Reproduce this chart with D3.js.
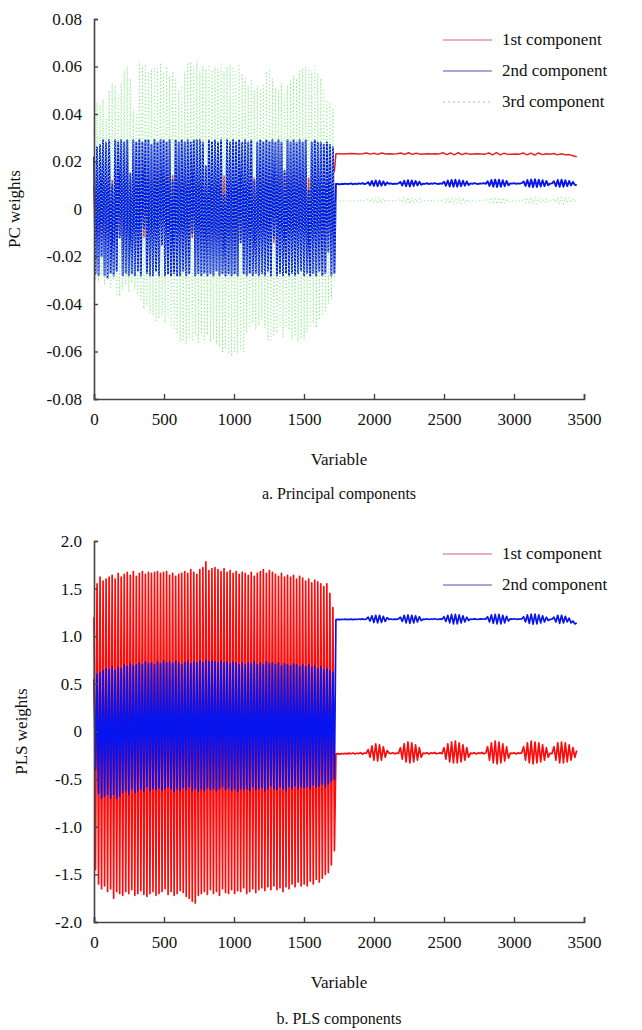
<!DOCTYPE html>
<html>
<head>
<meta charset="utf-8">
<script src="https://cdn.jsdelivr.net/npm/d3@7"></script>
<style>
  html, body { margin: 0; padding: 0; background: #fff; }
  svg text { font-family: "Liberation Serif", "Times New Roman", serif; fill: #111; }
</style>
</head>
<body>
<svg id="chart" width="642" height="1030"></svg>
<script>
// ---------------- DATA ----------------
// x axis ticks (shared)
const xTicks = [0, 500, 1000, 1500, 2000, 2500, 3000, 3500];
// panel a: y ticks
const pcTicks = [0.08, 0.06, 0.04, 0.02, 0, -0.02, -0.04, -0.06, -0.08];
// panel b: y ticks
const plsTicks = [2.0, 1.5, 1.0, 0.5, 0, -0.5, -1.0, -1.5, -2.0];

const pcLegend = ["1st component", "2nd component", "3rd component"];
const plsLegend = ["1st component", "2nd component"];

// variable index layout: dense block (variables 0..~1720) and flat block (~1728..~3448)
const denseStep = 10.8;
const tailStart = 1728;
const tailEnd = 3448;

// ---- Panel a: PC weights ----
const pc1Dense = [
 0.010,-0.012,0.013,-0.010,0.014,-0.013,0.012,-0.011,0.015,-0.012,
 0.014,-0.013,0.012,-0.014,0.015,-0.012,0.013,-0.011,0.014,-0.013,
 0.015,-0.012,0.013,-0.014,0.012,-0.013,0.014,-0.012,0.015,-0.011,
 0.013,-0.014,0.015,-0.012,0.014,-0.013,0.012,-0.014,0.013,-0.012,
 0.014,-0.011,0.015,-0.013,0.013,-0.014,0.015,-0.012,0.014,-0.013,
 0.012,-0.014,0.014,-0.012,0.015,-0.013,0.013,-0.011,0.014,-0.014,
 0.015,-0.012,0.013,-0.014,0.014,-0.012,0.015,-0.013,0.012,-0.014,
 0.014,-0.013,0.015,-0.011,0.013,-0.014,0.014,-0.012,0.015,-0.013,
 0.013,-0.014,0.012,-0.013,0.015,-0.012,0.014,-0.014,0.013,-0.011,
 0.015,-0.013,0.014,-0.012,0.013,-0.014,0.015,-0.013,0.014,-0.012,
 0.012,-0.014,0.015,-0.013,0.014,-0.011,0.013,-0.014,0.015,-0.012,
 0.014,-0.013,0.013,-0.014,0.015,-0.012,0.014,-0.013,0.012,-0.014,
 0.015,-0.012,0.014,-0.013,0.013,-0.014,0.015,-0.011,0.014,-0.013,
 0.013,-0.014,0.015,-0.012,0.014,-0.013,0.012,-0.014,0.015,-0.012,
 0.014,-0.013,0.013,-0.012,0.015,-0.014,0.014,-0.011,0.013,-0.013,
 0.015,-0.012,0.014,-0.013,0.012,-0.011,0.014,-0.012,0.015,0.016
];
const pc1Tail = [
 0.0233,0.0233,0.0232,0.0233,0.0234,0.0233,0.0232,0.0233,
 0.0236,0.0231,0.0235,0.0230,0.0236,0.0232,
 0.0233,0.0232,0.0233,
 0.0236,0.0230,0.0237,0.0230,0.0235,0.0231,
 0.0232,0.0233,0.0232,0.0233,0.0232,
 0.0237,0.0229,0.0236,0.0228,0.0237,0.0229,0.0235,0.0231,
 0.0232,0.0233,0.0232,0.0231,
 0.0236,0.0228,0.0237,0.0228,0.0235,0.0230,
 0.0231,0.0232,0.0231,
 0.0236,0.0228,0.0235,0.0227,0.0236,0.0229,0.0233,
 0.0231,
 0.0234,0.0228,0.0233,0.0228,0.0229,0.0224,0.0220
];
const pc2Dense = [
 0.022,-0.027,0.026,-0.028,0.027,-0.020,0.029,-0.028,0.028,-0.029,
 0.029,-0.027,0.010,-0.028,0.029,-0.026,0.028,-0.012,0.029,-0.028,
 0.028,-0.027,0.029,-0.028,0.015,-0.027,0.029,-0.028,0.028,-0.026,
 0.029,-0.028,0.028,-0.008,0.029,-0.027,0.029,-0.028,0.027,-0.028,
 0.029,-0.026,0.028,-0.028,0.029,-0.015,0.029,-0.028,0.028,-0.027,
 0.029,-0.028,0.012,-0.027,0.029,-0.028,0.028,-0.028,0.029,-0.026,
 0.028,-0.028,0.029,-0.027,0.028,-0.010,0.029,-0.028,0.029,-0.027,
 0.029,-0.028,0.028,-0.027,0.018,-0.028,0.029,-0.027,0.028,-0.028,
 0.029,-0.026,0.028,-0.028,0.029,-0.027,0.006,-0.028,0.029,-0.027,
 0.028,-0.028,0.029,-0.027,0.028,-0.028,0.029,-0.014,0.028,-0.027,
 0.029,-0.028,0.028,-0.027,0.029,-0.028,0.012,-0.027,0.028,-0.028,
 0.029,-0.027,0.028,-0.028,0.029,-0.026,0.028,-0.028,0.029,-0.012,
 0.028,-0.028,0.029,-0.027,0.028,-0.028,0.016,-0.027,0.029,-0.028,
 0.028,-0.027,0.029,-0.028,0.028,-0.027,0.029,-0.026,0.028,-0.028,
 0.029,-0.027,0.008,-0.028,0.028,-0.027,0.029,-0.028,0.028,-0.026,
 0.028,-0.028,0.027,-0.027,0.028,-0.018,0.027,-0.028,0.026,-0.027
];
const pc2Tail = [
 0.0105,0.0106,0.0104,0.0106,0.0105,0.0107,0.0105,0.0106,0.0108,0.0104,0.0107,0.0105,0.0108,0.0106,0.0109,0.0105,0.0107,
 0.0113,0.0100,0.0118,0.0097,0.0120,0.0096,0.0119,0.0098,0.0116,0.0100,0.0112,
 0.0106,0.0108,0.0105,0.0107,0.0106,0.0108,
 0.0114,0.0099,0.0119,0.0096,0.0121,0.0095,0.0120,0.0097,0.0118,0.0099,0.0115,0.0102,
 0.0107,0.0106,0.0109,0.0105,0.0108,0.0106,0.0109,0.0107,0.0105,0.0108,0.0106,
 0.0115,0.0098,0.0120,0.0095,0.0122,0.0094,0.0123,0.0094,0.0121,0.0096,0.0119,0.0098,0.0116,0.0101,
 0.0108,0.0106,0.0109,0.0107,0.0105,0.0108,0.0107,0.0109,0.0106,
 0.0117,0.0097,0.0122,0.0094,0.0124,0.0093,0.0123,0.0094,0.0121,0.0096,0.0118,0.0100,
 0.0108,0.0107,0.0109,0.0106,0.0108,0.0107,0.0109,
 0.0116,0.0097,0.0122,0.0094,0.0124,0.0092,0.0125,0.0093,0.0123,0.0095,0.0121,0.0096,0.0118,0.0100,
 0.0107,0.0108,
 0.0117,0.0096,0.0122,0.0094,0.0123,0.0094,0.0121,0.0096,0.0118,0.0099,0.0114,0.0102,0.0100
];
const pc3Dense = [
 0.040,-0.030,0.045,-0.031,0.044,-0.028,0.046,-0.032,0.038,-0.030,
 0.050,-0.033,0.053,-0.030,0.052,-0.036,0.048,-0.037,0.053,-0.034,
 0.058,-0.032,0.060,-0.035,0.055,-0.031,0.042,-0.034,0.040,-0.036,
 0.062,-0.038,0.060,-0.042,0.061,-0.040,0.058,-0.044,0.059,-0.045,
 0.060,-0.047,0.059,-0.046,0.061,-0.045,0.057,-0.048,0.060,-0.046,
 0.056,-0.049,0.058,-0.051,0.055,-0.052,0.050,-0.056,0.052,-0.055,
 0.058,-0.057,0.061,-0.054,0.062,-0.055,0.060,-0.053,0.062,-0.056,
 0.058,-0.052,0.060,-0.055,0.059,-0.053,0.060,-0.056,0.058,-0.055,
 0.060,-0.057,0.059,-0.058,0.061,-0.060,0.058,-0.059,0.060,-0.061,
 0.061,-0.062,0.060,-0.060,0.058,-0.061,0.061,-0.059,0.057,-0.060,
 0.055,-0.052,0.052,-0.050,0.054,-0.048,0.050,-0.051,0.052,-0.049,
 0.050,-0.047,0.052,-0.050,0.058,-0.055,0.059,-0.056,0.055,-0.053,
 0.051,-0.052,0.050,-0.049,0.053,-0.054,0.048,-0.050,0.052,-0.051,
 0.054,-0.055,0.056,-0.053,0.055,-0.056,0.058,-0.054,0.059,-0.055,
 0.060,-0.052,0.059,-0.050,0.058,-0.048,0.060,-0.050,0.057,-0.046,
 0.055,-0.045,0.050,-0.043,0.046,-0.040,0.045,-0.038,0.042,-0.030
];
const pc3Tail = [
 0.0034,0.0035,0.0033,0.0036,0.0034,0.0035,0.0037,0.0033,0.0035,0.0034,0.0036,0.0033,0.0035,0.0037,0.0034,0.0035,0.0036,
 0.0042,0.0028,0.0046,0.0025,0.0047,0.0023,0.0046,0.0025,0.0044,0.0028,0.0040,
 0.0035,0.0034,0.0036,0.0033,0.0035,0.0036,
 0.0043,0.0027,0.0047,0.0024,0.0048,0.0022,0.0047,0.0024,0.0045,0.0026,0.0042,0.0030,
 0.0035,0.0034,0.0036,0.0033,0.0035,0.0037,0.0034,0.0035,0.0033,0.0036,0.0034,
 0.0043,0.0027,0.0047,0.0023,0.0049,0.0021,0.0050,0.0021,0.0048,0.0023,0.0046,0.0025,0.0043,0.0029,
 0.0035,0.0034,0.0036,0.0033,0.0035,0.0037,0.0034,0.0036,0.0035,
 0.0044,0.0026,0.0049,0.0022,0.0050,0.0020,0.0049,0.0021,0.0047,0.0024,0.0044,0.0028,
 0.0035,0.0034,0.0036,0.0033,0.0035,0.0036,0.0034,
 0.0044,0.0026,0.0049,0.0021,0.0050,0.0020,0.0050,0.0021,0.0048,0.0023,0.0046,0.0025,0.0043,0.0029,
 0.0035,0.0034,
 0.0044,0.0026,0.0048,0.0022,0.0049,0.0022,0.0048,0.0024,0.0046,0.0027,0.0044,0.0030,0.0041
];

// ---- Panel b: PLS weights ----
const pls1Dense = [
 1.20,-1.45,1.55,-1.60,1.62,-1.65,1.58,-1.62,1.60,-1.68,
 1.62,-1.65,1.64,-1.75,1.60,-1.68,1.66,-1.70,1.62,-1.72,
 1.65,-1.68,1.67,-1.70,1.64,-1.66,1.68,-1.72,1.63,-1.70,
 1.66,-1.67,1.68,-1.71,1.65,-1.73,1.67,-1.70,1.66,-1.68,
 1.67,-1.72,1.68,-1.70,1.66,-1.68,1.67,-1.65,1.68,-1.71,
 1.64,-1.68,1.66,-1.72,1.63,-1.70,1.65,-1.67,1.66,-1.69,
 1.68,-1.73,1.66,-1.75,1.70,-1.78,1.67,-1.80,1.65,-1.72,
 1.70,-1.70,1.72,-1.68,1.78,-1.71,1.69,-1.66,1.71,-1.70,
 1.72,-1.68,1.70,-1.72,1.68,-1.65,1.71,-1.69,1.67,-1.70,
 1.69,-1.66,1.66,-1.70,1.68,-1.67,1.65,-1.68,1.67,-1.64,
 1.66,-1.70,1.64,-1.68,1.67,-1.65,1.63,-1.69,1.66,-1.66,
 1.68,-1.64,1.70,-1.67,1.66,-1.63,1.69,-1.66,1.67,-1.62,
 1.65,-1.66,1.63,-1.64,1.66,-1.68,1.62,-1.63,1.64,-1.65,
 1.62,-1.60,1.64,-1.63,1.60,-1.58,1.63,-1.62,1.61,-1.60,
 1.58,-1.62,1.60,-1.57,1.56,-1.60,1.59,-1.55,1.57,-1.58,
 1.55,-1.54,1.52,-1.50,1.55,-1.48,1.45,-1.40,1.30,-1.25
];
const pls1Tail = [
 -0.235,-0.232,-0.237,-0.231,-0.234,-0.229,-0.235,-0.227,-0.233,-0.225,-0.236,-0.228,-0.232,-0.222,-0.238,-0.226,-0.230,
 -0.19,-0.27,-0.15,-0.30,-0.13,-0.31,-0.14,-0.30,-0.16,-0.27,-0.20,
 -0.225,-0.232,-0.222,-0.235,-0.226,-0.23,
 -0.17,-0.29,-0.13,-0.32,-0.11,-0.33,-0.12,-0.32,-0.14,-0.30,-0.17,-0.27,
 -0.226,-0.232,-0.222,-0.236,-0.225,-0.23,-0.22,-0.234,-0.228,-0.224,-0.232,
 -0.17,-0.29,-0.13,-0.32,-0.11,-0.33,-0.10,-0.33,-0.12,-0.32,-0.14,-0.30,-0.17,-0.27,
 -0.226,-0.232,-0.222,-0.236,-0.225,-0.23,-0.22,-0.234,-0.228,
 -0.16,-0.30,-0.12,-0.33,-0.10,-0.34,-0.11,-0.33,-0.13,-0.31,-0.16,-0.28,
 -0.226,-0.232,-0.222,-0.236,-0.225,-0.23,-0.224,
 -0.16,-0.30,-0.12,-0.33,-0.10,-0.34,-0.11,-0.33,-0.12,-0.32,-0.14,-0.30,-0.17,-0.27,
 -0.228,-0.232,
 -0.16,-0.30,-0.12,-0.33,-0.11,-0.33,-0.12,-0.32,-0.14,-0.30,-0.17,-0.27,-0.20
];
const pls2Dense = [
 0.55,-0.40,0.60,-0.65,0.62,-0.70,0.64,-0.68,0.66,-0.66,
 0.65,-0.70,0.68,-0.66,0.64,-0.70,0.67,-0.68,0.66,-0.64,
 0.70,-0.62,0.68,-0.66,0.71,-0.60,0.69,-0.64,0.70,-0.62,
 0.72,-0.60,0.70,-0.63,0.73,-0.58,0.71,-0.62,0.72,-0.60,
 0.70,-0.61,0.73,-0.59,0.71,-0.62,0.74,-0.60,0.72,-0.58,
 0.73,-0.60,0.71,-0.63,0.74,-0.60,0.72,-0.62,0.70,-0.59,
 0.72,-0.61,0.74,-0.58,0.71,-0.62,0.73,-0.60,0.72,-0.63,
 0.74,-0.60,0.72,-0.62,0.75,-0.59,0.73,-0.61,0.74,-0.60,
 0.73,-0.62,0.72,-0.60,0.74,-0.58,0.72,-0.61,0.73,-0.59,
 0.71,-0.62,0.73,-0.60,0.72,-0.63,0.70,-0.60,0.72,-0.61,
 0.70,-0.60,0.72,-0.62,0.71,-0.58,0.73,-0.61,0.70,-0.60,
 0.72,-0.59,0.70,-0.62,0.73,-0.60,0.71,-0.57,0.72,-0.60,
 0.70,-0.61,0.72,-0.58,0.69,-0.60,0.71,-0.62,0.70,-0.58,
 0.69,-0.60,0.71,-0.57,0.70,-0.60,0.68,-0.58,0.70,-0.59,
 0.68,-0.58,0.70,-0.60,0.67,-0.56,0.69,-0.58,0.66,-0.57,
 0.68,-0.55,0.65,-0.58,0.66,-0.55,0.64,-0.52,0.62,-0.50
];
const pls2Tail = [
 1.175,1.178,1.174,1.177,1.176,1.179,1.175,1.178,1.180,1.174,1.179,1.176,1.181,1.177,1.182,1.176,1.180,
 1.20,1.16,1.215,1.145,1.22,1.14,1.22,1.145,1.21,1.155,1.195,
 1.178,1.181,1.176,1.180,1.177,1.182,
 1.20,1.155,1.22,1.14,1.225,1.135,1.22,1.14,1.215,1.15,1.205,1.165,
 1.18,1.178,1.183,1.176,1.181,1.178,1.184,1.179,1.176,1.182,1.178,
 1.205,1.155,1.22,1.14,1.23,1.13,1.23,1.13,1.225,1.14,1.215,1.15,1.20,1.165,
 1.181,1.178,1.183,1.179,1.176,1.182,1.179,1.184,1.178,
 1.205,1.15,1.225,1.135,1.23,1.13,1.23,1.13,1.22,1.14,1.21,1.16,
 1.182,1.179,1.184,1.178,1.181,1.179,1.183,
 1.205,1.15,1.225,1.135,1.232,1.128,1.232,1.13,1.225,1.14,1.215,1.15,1.20,1.165,
 1.178,1.18,
 1.20,1.15,1.22,1.135,1.22,1.14,1.21,1.15,1.19,1.14,1.16,1.13,1.14
];

// ---------------- DRAW ----------------
const FONT = '"Liberation Serif", "Times New Roman", Times, serif';
const svg = d3.select("#chart");
svg.append("rect").attr("width", 642).attr("height", 1030).attr("fill", "#fff");

function joinSeries(dense, tail) {
  const pts = dense.map((v, i) => ({ x: i * denseStep, y: v }));
  const step = (tailEnd - tailStart) / (tail.length - 1);
  tail.forEach((v, i) => pts.push({ x: tailStart + i * step, y: v }));
  return pts;
}

const red = "#ff0a0a", blue = "#0814ee", green = "#8ceb8c";

function panel(cfg) {
  const g = svg.append("g");
  const x = d3.scaleLinear().domain([0, 3500]).range([cfg.left, cfg.right]);
  const y = d3.scaleLinear().domain(cfg.domain).range([cfg.bottom, cfg.top]);

  const line = d3.line().x(d => x(d.x)).y(d => y(d.y));
  cfg.series.forEach(s => {
    g.append("path")
      .datum(joinSeries(s.dense, s.tail))
      .attr("fill", "none")
      .attr("stroke", s.color)
      .attr("stroke-width", s.width || 1)
      .attr("stroke-linejoin", "round")
      .attr("stroke-dasharray", s.dash || null)
      .attr("d", line);
  });

  // axes
  const axisColor = "#444";
  const yAxis = d3.axisLeft(y).tickValues(cfg.ticks).tickSize(-4).tickPadding(12).tickFormat(cfg.fmt);
  const ya = g.append("g").attr("transform", `translate(${cfg.left},0)`).call(yAxis);
  const xAxis = d3.axisBottom(x).tickValues(xTicks).tickSize(-5).tickPadding(14).tickFormat(d3.format("d"));
  const xa = g.append("g").attr("transform", `translate(0,${cfg.bottom})`).call(xAxis);
  [ya, xa].forEach(a => {
    a.attr("font-family", FONT);
    a.select(".domain").attr("stroke", axisColor).attr("stroke-width", 1.6);
    a.selectAll(".tick line").attr("stroke", axisColor).attr("stroke-width", 1.4);
    a.selectAll("text").attr("font-size", 17).attr("fill", "#111").attr("font-family", FONT);
  });
  xa.selectAll(".tick text").attr("dy", "0.71em");

  // axis titles
  g.append("text").attr("x", (cfg.left + cfg.right) / 2).attr("y", cfg.bottom + 66)
    .attr("text-anchor", "middle").attr("font-size", 17).attr("font-family", FONT).text("Variable");
  g.append("text")
    .attr("transform", `translate(${cfg.ylabX},${y(0)}) rotate(-90)`)
    .attr("text-anchor", "middle").attr("font-size", 17).attr("font-family", FONT).text(cfg.ylabel);
  g.append("text").attr("x", (cfg.left + cfg.right) / 2).attr("y", cfg.captionY)
    .attr("text-anchor", "middle").attr("font-size", 16).attr("font-family", FONT).text(cfg.caption);

  // legend
  cfg.legend.forEach((name, i) => {
    const s = cfg.series[i];
    const ly = cfg.legendY + i * 31;
    g.append("line").attr("x1", 443).attr("x2", 492).attr("y1", ly).attr("y2", ly)
      .attr("stroke", s.legendColor || s.color).attr("stroke-width", 1.2)
      .attr("stroke-dasharray", s.dash ? "2,3" : null);
    g.append("text").attr("x", 502).attr("y", ly + 5).attr("font-size", 17)
      .attr("font-family", FONT).text(name);
  });
}

panel({
  left: 94, right: 584, top: 19, bottom: 399,
  domain: [-0.08, 0.08], ticks: pcTicks,
  fmt: d => d === 0 ? "0" : d3.format(".2f")(d).replace("−", "-"),
  ylabel: "PC weights", ylabX: 20,
  caption: "a. Principal components", captionY: 499,
  legend: pcLegend, legendY: 40,
  series: [
    { dense: pc1Dense, tail: pc1Tail, color: "#e82020", width: 1.5, legendColor: "#d46070" },
    { dense: pc2Dense, tail: pc2Tail, color: blue, width: 1.9, legendColor: "#5050c0" },
    { dense: pc3Dense, tail: pc3Tail, color: green, width: 1.1, dash: "1,2.5", legendColor: "#9ac89a" }
  ]
});

panel({
  left: 94, right: 584, top: 541, bottom: 922,
  domain: [-2, 2], ticks: plsTicks,
  fmt: d => d === 0 ? "0" : d3.format(".1f")(d).replace("−", "-"),
  ylabel: "PLS weights", ylabX: 27,
  caption: "b. PLS components", captionY: 1024,
  legend: plsLegend, legendY: 554,
  series: [
    { dense: pls1Dense, tail: pls1Tail, color: red, width: 1.7, legendColor: "#d46070" },
    { dense: pls2Dense, tail: pls2Tail, color: blue, width: 1.7, legendColor: "#5050c0" }
  ]
});
</script>
</body>
</html>
